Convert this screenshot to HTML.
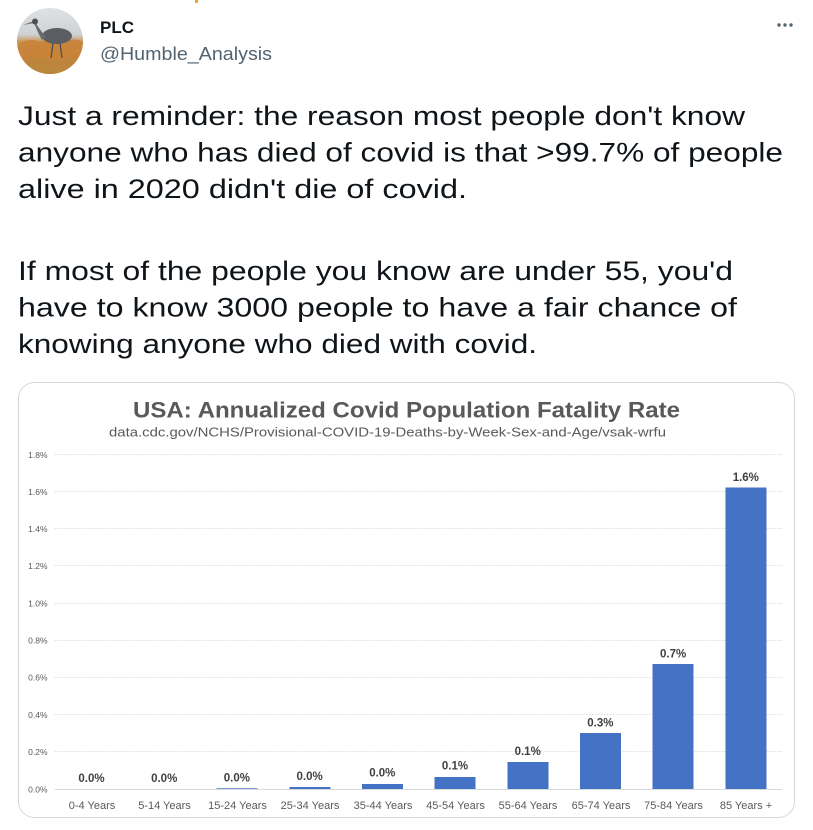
<!DOCTYPE html>
<html>
<head>
<meta charset="utf-8">
<style>
html,body{margin:0;padding:0;background:#fff;}
body{width:813px;height:830px;overflow:hidden;}
svg{display:block;}
</style>
</head>
<body>
<svg width="813" height="830" viewBox="0 0 813 830" xmlns="http://www.w3.org/2000/svg">
  <defs>
    <linearGradient id="av" x1="0" y1="0" x2="0" y2="1">
      <stop offset="0" stop-color="#dfe2e4"/>
      <stop offset="0.40" stop-color="#cfd2d4"/>
      <stop offset="0.52" stop-color="#c99350"/>
      <stop offset="0.78" stop-color="#c7843a"/>
      <stop offset="0.9" stop-color="#a88b45"/>
      <stop offset="1" stop-color="#7d9a48"/>
    </linearGradient>
    <clipPath id="avc"><circle cx="50" cy="41" r="33"/></clipPath>
  </defs>

  <!-- top fragment -->
  <rect x="195" y="0" width="3" height="3" fill="#f4a32a"/>

  <!-- avatar -->
  <g clip-path="url(#avc)">
    <rect x="17" y="8" width="66" height="66" fill="url(#av)"/>
    <path d="M17 46 Q28 36 40 42 Q52 36 64 42 Q74 37 83 42 L83 74 L17 74 Z" fill="#c88238" opacity="0.85"/>
    <ellipse cx="57" cy="36" rx="15" ry="8" fill="#5a5e63"/>
    <path d="M46 37 Q40 30 37 25 L35 21 L32 22 L35 25 Q37 31 42 40 Z" fill="#66696d"/>
    <path d="M34 21 L23 25 L34 23 Z" fill="#6c6a5a"/>
    <circle cx="35" cy="21.5" r="3" fill="#4d5155"/>
    <path d="M53 43 L51 58 M60 43 L62 58" stroke="#4c4f52" stroke-width="1.3"/>
    <path d="M17 60 Q35 55 50 60 Q65 55 83 60 L83 74 L17 74 Z" fill="#b7873f" opacity="0.6"/>
  </g>

  <!-- name -->
  <text x="100" y="33" font-family="Liberation Sans, sans-serif" font-size="17" font-weight="bold" fill="#0f1419">PLC</text>
  <text x="100" y="60" font-family="Liberation Sans, sans-serif" font-size="18" fill="#536471" textLength="172" lengthAdjust="spacingAndGlyphs">@Humble_Analysis</text>
  <circle cx="779" cy="25" r="1.7" fill="#536471"/>
  <circle cx="785" cy="25" r="1.7" fill="#536471"/>
  <circle cx="791" cy="25" r="1.7" fill="#536471"/>

  <!-- tweet text -->
  <g font-family="Liberation Sans, sans-serif" font-size="26.5" fill="#0f1419">
    <text x="18" y="125" textLength="727" lengthAdjust="spacingAndGlyphs">Just a reminder: the reason most people don't know</text>
    <text x="18" y="161.5" textLength="765" lengthAdjust="spacingAndGlyphs">anyone who has died of covid is that &gt;99.7% of people</text>
    <text x="18" y="198" textLength="449" lengthAdjust="spacingAndGlyphs">alive in 2020 didn't die of covid.</text>
    <text x="18" y="280" textLength="715" lengthAdjust="spacingAndGlyphs">If most of the people you know are under 55, you'd</text>
    <text x="18" y="316.5" textLength="719" lengthAdjust="spacingAndGlyphs">have to know 3000 people to have a fair chance of</text>
    <text x="18" y="353" textLength="519" lengthAdjust="spacingAndGlyphs">knowing anyone who died with covid.</text>
  </g>

  <!-- card -->
  <rect x="18.5" y="382.5" width="776" height="435" rx="16" ry="16" fill="#fff" stroke="#cfd9de" stroke-width="1"/>

  <!-- title -->
  <text x="133" y="417.5" font-family="Liberation Sans, sans-serif" font-size="22.5" font-weight="bold" fill="#595959" textLength="547" lengthAdjust="spacingAndGlyphs">USA: Annualized Covid Population Fatality Rate</text>
  <text x="109" y="436.5" font-family="Liberation Sans, sans-serif" font-size="13" fill="#595959" textLength="557" lengthAdjust="spacingAndGlyphs">data.cdc.gov/NCHS/Provisional-COVID-19-Deaths-by-Week-Sex-and-Age/vsak-wrfu</text>

  <!-- gridlines -->
  <g stroke="#dcdcdc" stroke-width="1" stroke-dasharray="1.5,1.5">
    <line x1="55" y1="454.5" x2="782" y2="454.5"/>
    <line x1="55" y1="491.5" x2="782" y2="491.5"/>
    <line x1="55" y1="528.5" x2="782" y2="528.5"/>
    <line x1="55" y1="565.5" x2="782" y2="565.5"/>
    <line x1="55" y1="603.5" x2="782" y2="603.5"/>
    <line x1="55" y1="640.5" x2="782" y2="640.5"/>
    <line x1="55" y1="677.5" x2="782" y2="677.5"/>
    <line x1="55" y1="714.5" x2="782" y2="714.5"/>
    <line x1="55" y1="751.5" x2="782" y2="751.5"/>
  </g>

  <!-- y tick labels -->
  <g font-family="Liberation Sans, sans-serif" font-size="8.5" fill="#595959" text-anchor="end">
    <text x="47.5" y="458">1.8%</text>
    <text x="47.5" y="495">1.6%</text>
    <text x="47.5" y="532">1.4%</text>
    <text x="47.5" y="569">1.2%</text>
    <text x="47.5" y="606.5">1.0%</text>
    <text x="47.5" y="643.5">0.8%</text>
    <text x="47.5" y="680.5">0.6%</text>
    <text x="47.5" y="718">0.4%</text>
    <text x="47.5" y="755">0.2%</text>
    <text x="47.5" y="792.5">0.0%</text>
  </g>

  <!-- bars -->
  <g fill="#4472c4">
    <rect x="216.5" y="788.3" width="41" height="0.7"/>
    <rect x="289.5" y="787" width="41" height="2"/>
    <rect x="362" y="784" width="41" height="5"/>
    <rect x="434.5" y="777" width="41" height="12"/>
    <rect x="507.5" y="762" width="41" height="27"/>
    <rect x="580" y="733" width="41" height="56"/>
    <rect x="652.5" y="664" width="41" height="125"/>
    <rect x="725.5" y="487.5" width="41" height="301.5"/>
  </g>

  <!-- zero axis -->
  <line x1="55" y1="789.5" x2="782" y2="789.5" stroke="#d9d9d9" stroke-width="1"/>

  <!-- value labels -->
  <g font-family="Liberation Sans, sans-serif" font-size="11.5" font-weight="bold" fill="#404040" text-anchor="middle">
    <text x="91.5" y="782">0.0%</text>
    <text x="164.2" y="782">0.0%</text>
    <text x="236.9" y="781.5">0.0%</text>
    <text x="309.6" y="780">0.0%</text>
    <text x="382.3" y="776.5">0.0%</text>
    <text x="455" y="769.5">0.1%</text>
    <text x="527.7" y="755">0.1%</text>
    <text x="600.4" y="726.5">0.3%</text>
    <text x="673.1" y="657.5">0.7%</text>
    <text x="745.8" y="481">1.6%</text>
  </g>

  <!-- category labels -->
  <g font-family="Liberation Sans, sans-serif" font-size="11" fill="#595959" text-anchor="middle">
    <text x="92" y="809">0-4 Years</text>
    <text x="164.5" y="809">5-14 Years</text>
    <text x="237.5" y="809">15-24 Years</text>
    <text x="310" y="809">25-34 Years</text>
    <text x="383" y="809">35-44 Years</text>
    <text x="455.5" y="809">45-54 Years</text>
    <text x="528" y="809">55-64 Years</text>
    <text x="601" y="809">65-74 Years</text>
    <text x="673.5" y="809">75-84 Years</text>
    <text x="746" y="809">85 Years +</text>
  </g>
</svg>
</body>
</html>
